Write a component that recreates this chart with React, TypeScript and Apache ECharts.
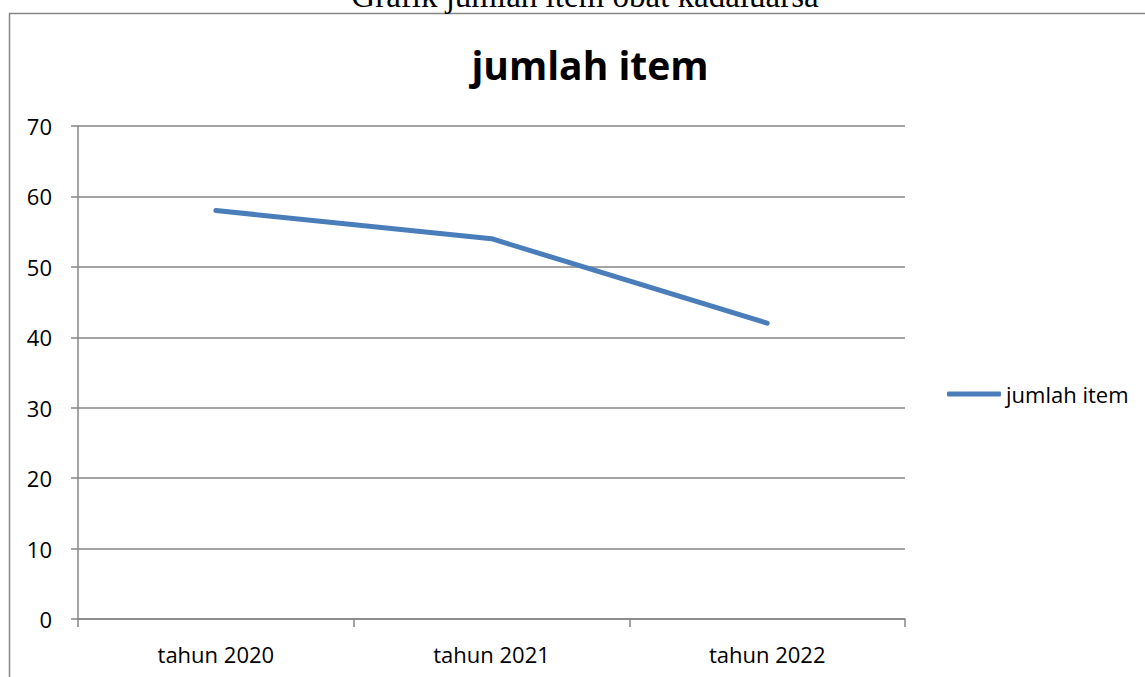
import React, { useEffect, useRef } from "react";
import * as echarts from "echarts";

const categories = ["tahun 2020", "tahun 2021", "tahun 2022"];
const seriesName = "jumlah item";
const values = [58, 54, 42];
const docTitle = "Grafik jumlah item obat kadaluarsa";
const chartTitle = "jumlah item";

const FONT = "'Open Sans', 'Noto Sans', sans-serif";
const GRID = "#868686";

export default function App() {
  const ref = useRef<HTMLDivElement>(null);
  useEffect(() => {
    if (!ref.current) return;
    const chart = echarts.init(ref.current, null, { renderer: "svg" });
    chart.setOption({
      animation: false,
      backgroundColor: "#ffffff",
      textStyle: { fontFamily: FONT },
      graphic: [
        {
          type: "rect",
          shape: { x: 9.5, y: 13.5, width: 1200, height: 800 },
          style: { fill: "none", stroke: GRID, lineWidth: 1.5 },
          silent: true,
        },
        {
          type: "text",
          x: 585,
          y: 12,
          style: {
            text: docTitle,
            fontFamily: "'Liberation Serif', 'DejaVu Serif', serif",
            fontSize: 33,
            fill: "#000",
            align: "center",
            verticalAlign: "bottom",
          },
        },
      ],
      title: {
        text: chartTitle,
        left: 585,
        top: 40,
        textAlign: "center",
        textStyle: { fontFamily: FONT, fontWeight: "bold", fontSize: 39, color: "#000" },
      },
      legend: {
        left: 942,
        top: 378,
        itemWidth: 54,
        itemHeight: 5,
        icon: "roundRect",
        itemGap: 10,
        data: [seriesName],
        textStyle: { fontFamily: FONT, fontSize: 22, color: "#000" },
      },
      grid: { left: 78, right: 240, top: 126, bottom: 58, containLabel: false },
      xAxis: {
        type: "category",
        data: categories,
        boundaryGap: true,
        axisLine: { lineStyle: { color: GRID, width: 1.5 } },
        axisTick: { show: true, length: 8, alignWithLabel: false, lineStyle: { color: GRID, width: 1.5 } },
        axisLabel: { margin: 24, fontSize: 22, color: "#000", fontFamily: FONT },
        splitLine: { show: false },
      },
      yAxis: {
        type: "value",
        min: 0,
        max: 70,
        interval: 10,
        axisLine: { show: true, lineStyle: { color: GRID, width: 1.5 } },
        axisTick: { show: true, length: 7, lineStyle: { color: GRID, width: 1.5 } },
        axisLabel: { margin: 26, fontSize: 22, color: "#000", fontFamily: FONT },
        splitLine: { show: true, lineStyle: { color: GRID, width: 1.5 } },
      },
      series: [
        {
          name: seriesName,
          type: "line",
          data: values,
          showSymbol: false,
          symbol: "none",
          lineStyle: { color: "#4a7ebb", width: 5, cap: "round", join: "round" },
          itemStyle: { color: "#4a7ebb" },
        },
      ],
    });
    return () => chart.dispose();
  }, []);
  return (
    <div
      ref={ref}
      style={{ position: "fixed", left: 0, top: 0, width: 1145, height: 677 }}
    />
  );
}
